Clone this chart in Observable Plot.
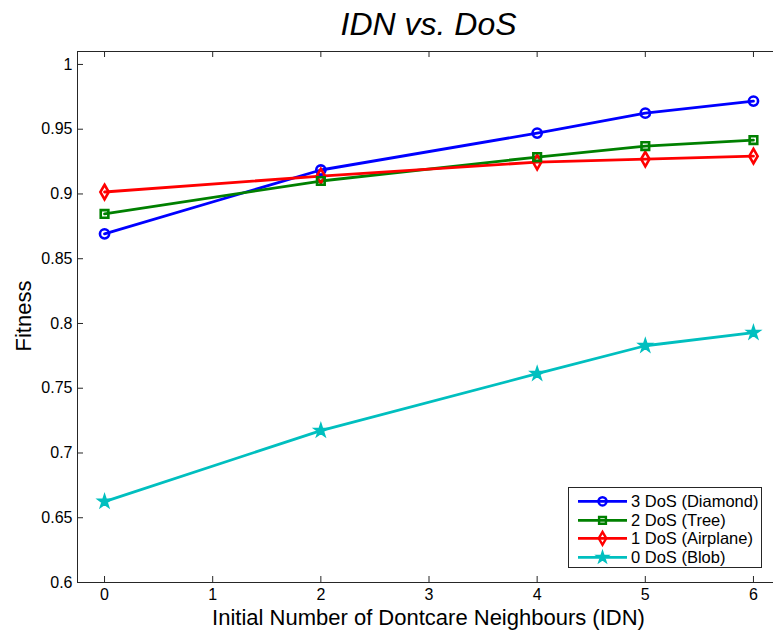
<!DOCTYPE html>
<html><head><meta charset="utf-8">
<script src="https://cdn.jsdelivr.net/npm/d3@7"></script>
<script src="https://cdn.jsdelivr.net/npm/@observablehq/plot@0.6"></script>
<style>
body{margin:0;background:#fff;font-family:"Liberation Sans",Arial,sans-serif;color:#000;}
#wrap{position:relative;width:773px;height:630px;overflow:hidden;background:#fff;}
#title{position:absolute;left:77px;width:703px;top:8px;text-align:center;font-size:32px;line-height:32px;font-style:italic;}
#chart{position:absolute;left:0;top:44px;width:780px;}
#chart svg{max-width:none !important;}
#xlabel{position:absolute;left:77px;width:703px;top:607px;text-align:center;font-size:22px;line-height:22px;white-space:nowrap;}
#ylabel{position:absolute;left:24px;top:316px;font-size:22px;line-height:22px;white-space:nowrap;transform:translate(-50%,-50%) rotate(-90deg);}
#legend{position:absolute;left:568px;top:487px;width:194px;height:81px;box-sizing:border-box;border:1px solid #262626;background:#fff;padding-top:4px;}
.row{height:18.7px;display:flex;align-items:center;font-size:16.5px;}
.row svg{flex:none;}
</style></head><body>
<div id="wrap">
  <div id="title">IDN vs. DoS</div>
  <div id="chart"></div>
  <div id="xlabel">Initial Number of Dontcare Neighbours (IDN)</div>
  <div id="ylabel">Fitness</div>
  <div id="legend"></div>
</div>
<script>
const idn = [0, 2, 4, 5, 6];
const fit3 = [0.8692, 0.9185, 0.9470, 0.9624, 0.9717];
const fit2 = [0.8846, 0.9100, 0.9285, 0.9370, 0.9416];
const fit1 = [0.9015, 0.9138, 0.9246, 0.9269, 0.9292];
const fit0 = [0.6625, 0.7173, 0.7612, 0.7828, 0.7929];
const seriesNames = ["3 DoS (Diamond)", "2 DoS (Tree)", "1 DoS (Airplane)", "0 DoS (Blob)"];
const seriesColors = ["#0000ff", "#008000", "#ff0000", "#00bfbf"];
const seriesSymbols = ["circle", "square", "diamond", "star"];
const xTicks = [0, 1, 2, 3, 4, 5, 6];
const xTickLabels = ["0", "1", "2", "3", "4", "5", "6"];
const yTicks = [0.6, 0.65, 0.7, 0.75, 0.8, 0.85, 0.9, 0.95, 1];
const yTickLabels = ["0.6", "0.65", "0.7", "0.75", "0.8", "0.85", "0.9", "0.95", "1"];

// marker radius (style) per series
const markerR = [4.6, 4.3, 4.4, 3.2];

const allSeries = [fit3, fit2, fit1, fit0];
const rows = [];
allSeries.forEach((vals, s) => vals.forEach((v, i) => rows.push({series: seriesNames[s], idn: idn[i], fitness: v, k: s})));

const W = 780, H = 586, mT = 7, mB = 48, mL = 77, mR = 0;
const frameW = W - mL - mR, frameH = H - mT - mB;
const axisColor = "#262626";

const plot = Plot.plot({
  width: W, height: H,
  marginTop: mT, marginBottom: mB, marginLeft: mL, marginRight: mR,
  style: {fontFamily: '"Liberation Sans", Arial, sans-serif', fontSize: "16px", color: "#000", background: "transparent", maxWidth: "none"},
  x: {domain: [-0.25, 6.25]},
  y: {domain: [0.6, 1.01]},
  r: {type: "identity"},
  color: {domain: seriesNames, range: seriesColors},
  symbol: {domain: seriesNames, range: seriesSymbols},
  marks: [
    Plot.frame({stroke: axisColor, strokeWidth: 1}),
    Plot.tickX(xTicks, {x: d => d, stroke: axisColor, insetTop: frameH - 6}),
    Plot.tickX(xTicks, {x: d => d, stroke: axisColor, insetBottom: frameH - 6}),
    Plot.tickY(yTicks, {y: d => d, stroke: axisColor, insetRight: frameW - 6}),
    Plot.axisX(xTicks, {tickSize: 0, tickPadding: 6, tickFormat: (d, i) => xTickLabels[i], label: null, fill: "#000"}),
    Plot.axisY(yTicks, {tickSize: 0, tickPadding: 5, tickFormat: (d, i) => yTickLabels[i], label: null, fill: "#000"}),
    Plot.line(rows, {x: "idn", y: "fitness", stroke: "series", z: "series", strokeWidth: 2.8}),
    Plot.dot(rows, {x: "idn", y: "fitness", stroke: "series", symbol: "series", r: d => markerR[d.k], strokeWidth: 2.6, fill: "none"})
  ]
});
document.getElementById("chart").appendChild(plot);

// legend
const legend = d3.select("#legend");
const symMap = {circle: d3.symbolCircle, square: d3.symbolSquare, diamond: d3.symbolDiamond, star: d3.symbolStar};
seriesNames.forEach((name, i) => {
  const row = legend.append("div").attr("class", "row");
  const svg = row.append("svg").attr("width", 62).attr("height", 18.7);
  svg.append("line").attr("x1", 9).attr("x2", 58).attr("y1", 9.35).attr("y2", 9.35)
    .attr("stroke", seriesColors[i]).attr("stroke-width", 2.8);
  svg.append("path").attr("d", d3.symbol(symMap[seriesSymbols[i]], Math.PI * markerR[i] * markerR[i] * 0.8)())
    .attr("transform", "translate(33.5,9.35)").attr("fill", "none")
    .attr("stroke", seriesColors[i]).attr("stroke-width", 2.4);
  row.append("span").text(name);
});
</script>
</body></html>
